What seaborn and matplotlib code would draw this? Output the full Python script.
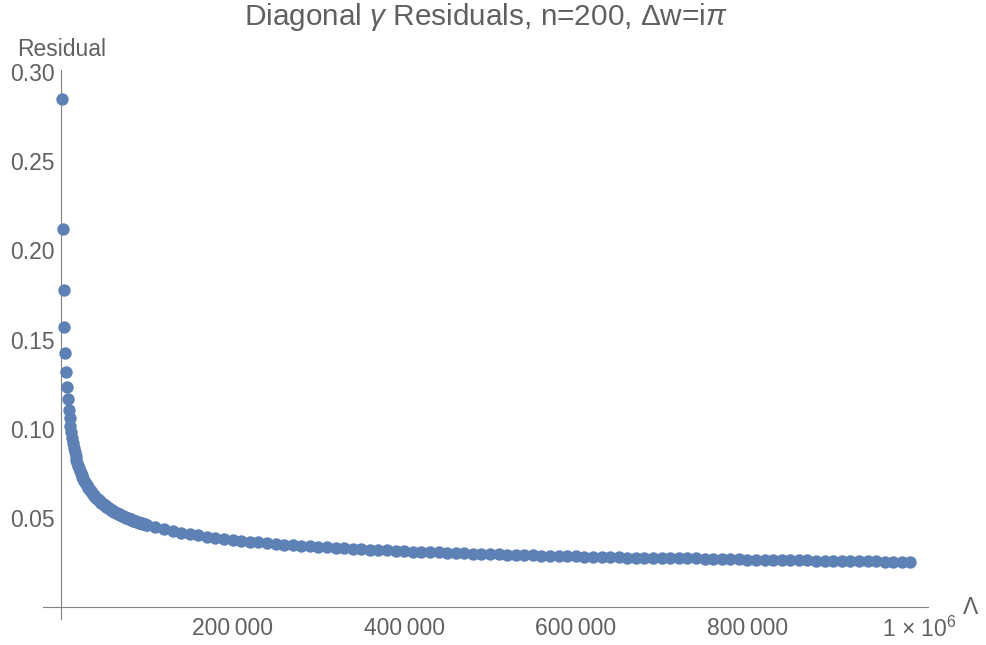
import numpy as np
import pandas as pd
import matplotlib
matplotlib.use("Agg")
import matplotlib.pyplot as plt
import seaborn as sns
from matplotlib.ticker import FixedLocator, MultipleLocator

# ---------------- data ----------------
lambda_dense = list(range(1000, 100001, 1000))        # 1000 .. 100000
lambda_tail = list(range(110000, 990001, 10000))      # 110000 .. 990000

residual_dense = [
    0.2850, 0.2118, 0.1777, 0.1570, 0.1427, 0.1319, 0.1236, 0.1166, 0.1108, 0.1059,
    0.1017, 0.0981, 0.0949, 0.0919, 0.0893, 0.0869, 0.0847, 0.0827, 0.0809, 0.0792,
    0.0778, 0.0765, 0.0753, 0.0741, 0.0730, 0.0720, 0.0710, 0.0701, 0.0692, 0.0684,
    0.0676, 0.0669, 0.0662, 0.0655, 0.0649, 0.0642, 0.0636, 0.0630, 0.0625, 0.0619,
    0.0614, 0.0609, 0.0604, 0.0600, 0.0595, 0.0591, 0.0587, 0.0582, 0.0578, 0.0575,
    0.0571, 0.0567, 0.0564, 0.0560, 0.0557, 0.0554, 0.0550, 0.0547, 0.0544, 0.0541,
    0.0538, 0.0536, 0.0533, 0.0530, 0.0527, 0.0525, 0.0522, 0.0520, 0.0517, 0.0515,
    0.0513, 0.0511, 0.0508, 0.0506, 0.0504, 0.0502, 0.0500, 0.0498, 0.0496, 0.0494,
    0.0492, 0.0490, 0.0488, 0.0486, 0.0485, 0.0483, 0.0481, 0.0479, 0.0478, 0.0476,
    0.0475, 0.0473, 0.0471, 0.0470, 0.0468, 0.0467, 0.0465, 0.0464, 0.0462, 0.0461,
]

residual_tail = [
    0.04484, 0.04373, 0.04273, 0.04182, 0.04099, 0.04023, 0.03953, 0.03888, 0.03828,
    0.03771, 0.03722, 0.03676, 0.03632, 0.03591, 0.03552, 0.03515, 0.03479, 0.03445,
    0.03413, 0.03382, 0.03354, 0.03327, 0.03301, 0.03276, 0.03252, 0.03229, 0.03207,
    0.03185, 0.03164, 0.03144, 0.03125, 0.03107, 0.03089, 0.03072, 0.03055, 0.03038,
    0.03022, 0.03007, 0.02992, 0.02977, 0.02963, 0.02950, 0.02936, 0.02924, 0.02911,
    0.02899, 0.02887, 0.02875, 0.02863, 0.02852, 0.02841, 0.02831, 0.02820, 0.02810,
    0.02800, 0.02790, 0.02781, 0.02771, 0.02762, 0.02753, 0.02744, 0.02758, 0.02752,
    0.02735, 0.02711, 0.02703, 0.02695, 0.02687, 0.02680, 0.02672, 0.02665, 0.02658,
    0.02651, 0.02644, 0.02637, 0.02630, 0.02623, 0.02617, 0.02610, 0.02604, 0.02598,
    0.02592, 0.02586, 0.02580, 0.02568, 0.02558, 0.02552, 0.02548, 0.02545,
]

x_tick_values = [200000, 400000, 600000, 800000, 1000000]
x_tick_labels = ["200\u2009000", "400\u2009000", "600\u2009000", "800\u2009000",
                 "1 \u00d7 10$^{\\mathregular{6}}$"]
y_tick_values = [0.05, 0.10, 0.15, 0.20, 0.25, 0.30]
y_tick_labels = ["0.05", "0.10", "0.15", "0.20", "0.25", "0.30"]

title_text = "Diagonal $\\mathit{\\gamma}$ Residuals, n=200, \u0394w=i$\\mathit{\\pi}$"
x_label = "\u039b"
y_label = "Residual"

# ---------------- style ----------------
sns.set_style("white")
plt.rcParams["font.family"] = ["Liberation Sans", "DejaVu Sans"]
plt.rcParams["mathtext.fontset"] = "custom"
plt.rcParams["mathtext.rm"] = "Liberation Sans"
plt.rcParams["mathtext.it"] = "Liberation Sans:italic"
plt.rcParams["mathtext.bf"] = "Liberation Sans:bold"

POINT_COLOR = "#5E81B5"
TEXT_COLOR = "#606060"
AXIS_COLOR = "#808080"

df = pd.DataFrame({
    "Lambda": lambda_dense + lambda_tail,
    "Residual": residual_dense + residual_tail,
})

fig = plt.figure(figsize=(9.87, 6.45), dpi=100)
ax = fig.add_axes([0.04357, 0.04031, 0.89666, 0.85116])

sns.scatterplot(data=df, x="Lambda", y="Residual", color=POINT_COLOR, s=80,
                linewidth=0, ax=ax, zorder=3, clip_on=False)

ax.set_xlim(-21000, 1010500)
ax.set_ylim(-0.00655, 0.3010)

for s in ["top", "right"]:
    ax.spines[s].set_visible(False)
for s in ["left", "bottom"]:
    ax.spines[s].set_position(("data", 0))
    ax.spines[s].set_color(AXIS_COLOR)
    ax.spines[s].set_linewidth(0.8)

ax.xaxis.set_major_locator(FixedLocator(x_tick_values))
ax.set_xticklabels(x_tick_labels)
ax.xaxis.set_minor_locator(MultipleLocator(50000))
ax.yaxis.set_major_locator(FixedLocator(y_tick_values))
ax.set_yticklabels(y_tick_labels)
ax.yaxis.set_minor_locator(MultipleLocator(0.01))

ax.tick_params(which="both", direction="in", color=AXIS_COLOR, width=0.7,
               labelcolor=TEXT_COLOR, labelsize=16.5)
ax.tick_params(which="major", length=3.4)
ax.tick_params(which="minor", length=2.2)
ax.tick_params(axis="x", which="major", pad=7)
ax.tick_params(axis="y", which="major", pad=4.3)

ax.set_xlabel("")
ax.set_ylabel("")

fig.text(61.5 / 987, 1 - 50 / 645, y_label, ha="center", va="center",
         fontsize=16.5, color=TEXT_COLOR)
fig.text(971 / 987, 1 - 608 / 645, x_label, ha="center", va="center",
         fontsize=16.5, color=TEXT_COLOR)
fig.text(485.5 / 987, 1 - 17 / 645, title_text, ha="center", va="center",
         fontsize=21.4, color=TEXT_COLOR)

fig.savefig("out.png", dpi=100)
